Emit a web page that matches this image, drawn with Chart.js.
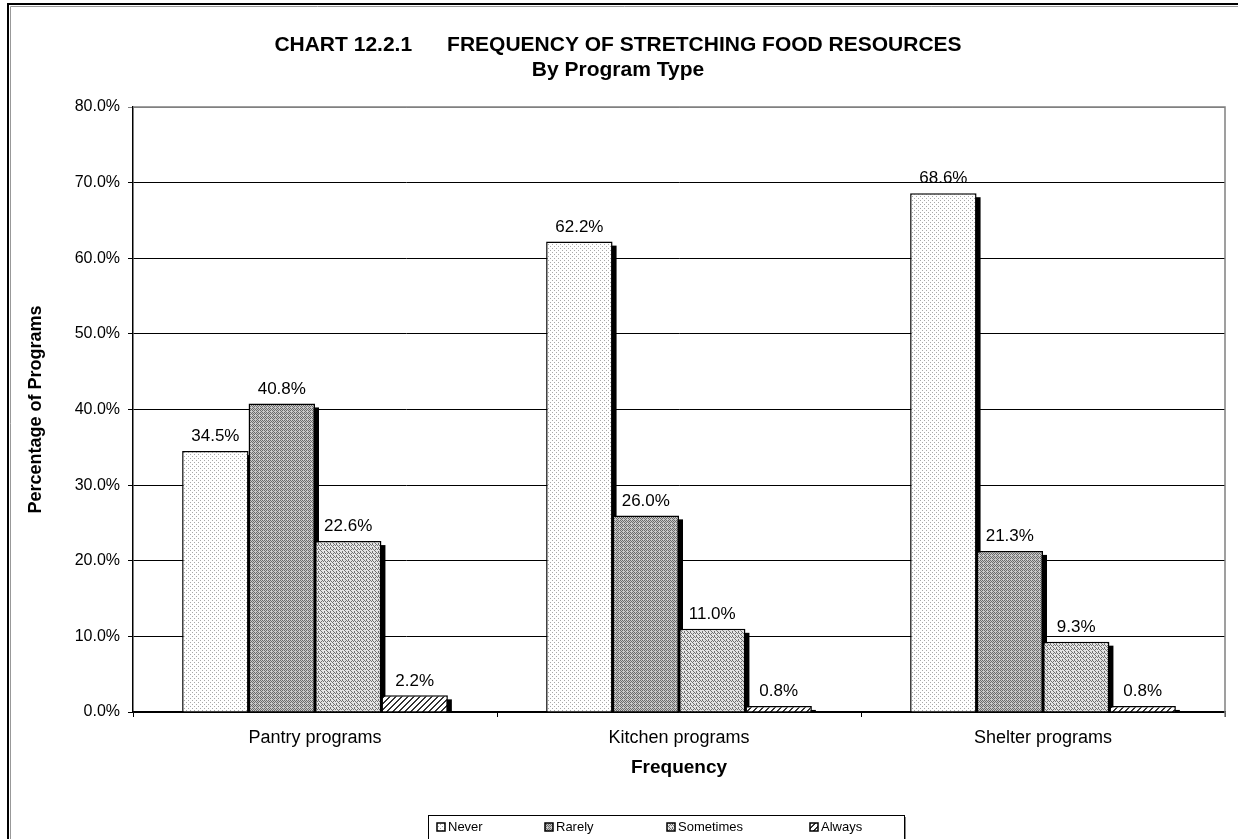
<!DOCTYPE html>
<html>
<head>
<meta charset="utf-8">
<script src="https://cdn.jsdelivr.net/npm/chart.js@4.4.1/dist/chart.umd.min.js"></script>
<style>
html,body{margin:0;padding:0;background:#fff;overflow:hidden;}
#wrap{position:absolute;left:0;top:0;width:1238px;height:839px;}
</style>
</head>
<body>
<div id="wrap"><canvas id="c" width="1238" height="839"></canvas></div>
<script>
const categories = ['Pantry programs', 'Kitchen programs', 'Shelter programs'];
const seriesNames = ['Never', 'Rarely', 'Sometimes', 'Always'];
const neverValues = [34.5, 62.2, 68.6];
const rarelyValues = [40.8, 26.0, 21.3];
const sometimesValues = [22.6, 11.0, 9.3];
const alwaysValues = [2.2, 0.8, 0.8];
const yTicks = [0, 10, 20, 30, 40, 50, 60, 70, 80];
const titleLines = ['CHART 12.2.1\u00a0\u00a0\u00a0\u00a0\u00a0\u00a0FREQUENCY OF STRETCHING FOOD RESOURCES', 'By Program Type'];

const FONT = "'Liberation Sans', Arial, sans-serif";

function makePattern(kind) {
  const c = document.createElement('canvas');
  const ctx = c.getContext('2d');
  if (kind === 'never') {
    c.width = 4; c.height = 4;
    ctx.fillStyle = '#ffffff'; ctx.fillRect(0,0,4,4);
    ctx.fillStyle = '#a8a8a8';
    ctx.fillRect(0,0,1,1); ctx.fillRect(2,2,1,1);
  } else if (kind === 'rarely') {
    c.width = 4; c.height = 4;
    ctx.fillStyle = '#c8c8c8'; ctx.fillRect(0,0,4,4);
    ctx.fillStyle = '#6a6a6a';
    ctx.fillRect(0,0,1,1); ctx.fillRect(2,0,1,1); ctx.fillRect(1,1,1,1); ctx.fillRect(3,1,1,1);
    ctx.fillRect(0,2,1,1); ctx.fillRect(2,2,1,1); ctx.fillRect(1,3,1,1);
  } else if (kind === 'sometimes') {
    c.width = 6; c.height = 4;
    ctx.fillStyle = '#e4e4e4'; ctx.fillRect(0,0,6,4);
    ctx.fillStyle = '#707070';
    ctx.fillRect(0,0,1,1); ctx.fillRect(1,1,1,1); ctx.fillRect(2,2,1,1);
    ctx.fillRect(3,1,1,1); ctx.fillRect(4,0,1,1); ctx.fillRect(5,1,1,1);
    ctx.fillRect(0,3,1,1); ctx.fillRect(3,3,1,1);
  } else {
    c.width = 6; c.height = 6;
    ctx.fillStyle = '#ffffff'; ctx.fillRect(0,0,6,6);
    ctx.fillStyle = '#333333';
    for (let i = 0; i < 6; i++) { ctx.fillRect((5 - i + 6) % 6, i, 1, 1); ctx.fillRect((6 - i) % 6, i, 1, 1); }
  }
  return document.createElement('canvas').getContext('2d').createPattern(c, 'repeat');
}
const patterns = [makePattern('never'), makePattern('rarely'), makePattern('sometimes'), makePattern('always')];
const seriesValues = [neverValues, rarelyValues, sometimesValues, alwaysValues];

const datasets = seriesNames.map((name, i) => ({
  label: name,
  data: seriesValues[i],
  backgroundColor: patterns[i],
  borderColor: '#000',
  borderWidth: 1.5,
  borderSkipped: 'bottom'
}));

const decor = {
  id: 'decor',
  beforeDatasetsDraw(chart) {
    const ctx = chart.ctx;
    const a = chart.chartArea;
    ctx.save();
    ctx.beginPath();
    ctx.rect(a.left, a.top, a.right - a.left, a.bottom - a.top);
    ctx.clip();
    ctx.fillStyle = '#000';
    chart.data.datasets.forEach((ds, di) => {
      chart.getDatasetMeta(di).data.forEach((bar) => {
        const p = bar.getProps(['x', 'y', 'width', 'base'], true);
        ctx.fillRect(p.x - p.width / 2 + 4, p.y + 4, p.width, p.base - p.y);
      });
    });
    ctx.restore();
  },
  afterDatasetsDraw(chart) {
    const ctx = chart.ctx;
    const a = chart.chartArea;
    ctx.save();
    ctx.strokeStyle = '#808080';
    ctx.lineWidth = 1.5;
    ctx.beginPath();
    ctx.moveTo(a.left, a.top); ctx.lineTo(a.right, a.top); ctx.lineTo(a.right, a.bottom + 5);
    ctx.stroke();
    ctx.fillStyle = '#000';
    ctx.font = '17px ' + FONT;
    ctx.textAlign = 'center';
    ctx.textBaseline = 'bottom';
    chart.data.datasets.forEach((ds, di) => {
      const meta = chart.getDatasetMeta(di);
      meta.data.forEach((bar, j) => {
        ctx.fillText(ds.data[j].toFixed(1) + '%', bar.x, bar.y - 6);
      });
    });
    ctx.restore();
  },
  afterDraw(chart) {
    const ctx = chart.ctx;
    ctx.save();
    ctx.strokeStyle = '#000';
    ctx.lineWidth = 2;
    ctx.beginPath();
    ctx.moveTo(8, 845); ctx.lineTo(8, 4); ctx.lineTo(1245, 4);
    ctx.stroke();
    ctx.strokeStyle = '#999';
    ctx.lineWidth = 1;
    ctx.beginPath();
    ctx.moveTo(10.5, 845); ctx.lineTo(10.5, 6.5); ctx.lineTo(1245, 6.5);
    ctx.stroke();
    ctx.fillStyle = '#000';
    ctx.textAlign = 'center';
    ctx.textBaseline = 'middle';
    ctx.font = 'bold 21px ' + FONT;
    ctx.fillText(titleLines[0], 618, 45);
    ctx.fillText(titleLines[1], 618, 70);
    const lx = 428, ly = 815, lw = 476, lh = 30;
    ctx.fillStyle = '#fff';
    ctx.fillRect(lx, ly, lw, lh);
    ctx.strokeStyle = '#000';
    ctx.lineWidth = 1;
    ctx.strokeRect(lx + 0.5, ly + 0.5, lw, lh);
    ctx.strokeStyle = '#888';
    ctx.beginPath();
    ctx.moveTo(lx + lw + 1.5, ly + 2); ctx.lineTo(lx + lw + 1.5, ly + lh + 2);
    ctx.stroke();
    const itemX = [437, 545, 667, 810];
    ctx.font = '13px ' + FONT;
    ctx.textAlign = 'left';
    ctx.textBaseline = 'middle';
    chart.data.datasets.forEach((ds, i) => {
      const x = itemX[i], y = 827;
      ctx.fillStyle = ds.backgroundColor;
      ctx.fillRect(x, y - 4, 8, 8);
      ctx.strokeStyle = '#000';
      ctx.lineWidth = 1.5;
      ctx.strokeRect(x, y - 4, 8, 8);
      ctx.fillStyle = '#000';
      ctx.fillText(ds.label, x + 11, y);
    });
    ctx.restore();
  }
};

new Chart(document.getElementById('c'), {
  type: 'bar',
  data: { labels: categories, datasets },
  plugins: [decor],
  options: {
    responsive: false,
    animation: false,
    events: [],
    layout: { padding: { left: 9, right: 13, top: 107, bottom: 55 } },
    plugins: { legend: { display: false }, title: { display: false }, tooltip: { enabled: false } },
    datasets: { bar: { categoryPercentage: 0.73, barPercentage: 1.0 } },
    scales: {
      x: {
        afterFit(s) { s.height = 72; },
        grid: { display: true, drawOnChartArea: false, offset: true, color: '#000', tickLength: 5, tickWidth: 1 },
        border: { display: true, color: '#000', width: 1.5 },
        ticks: { color: '#000', font: { family: FONT, size: 18 }, padding: 10 },
        title: { display: true, text: 'Frequency', color: '#000', font: { family: FONT, size: 19, weight: 'bold' }, padding: { top: 0, bottom: 5 } }
      },
      y: {
        min: 0, max: 80,
        afterFit(s) { s.width = 124; },
        afterBuildTicks(s) { s.ticks = yTicks.map(v => ({ value: v })); },
        grid: { color: (c) => c.tick && c.tick.value === 80 ? '#808080' : '#000', lineWidth: 1, tickLength: 5 },
        border: { display: true, color: '#000', width: 1.5 },
        ticks: { color: '#000', font: { family: FONT, size: 16 }, padding: 8, callback: (v) => Number(v).toFixed(1) + '%' },
        title: { display: true, text: 'Percentage of Programs', color: '#000', font: { family: FONT, size: 18, weight: 'bold' }, padding: { top: 16, bottom: 0 } }
      }
    }
  }
});
</script>
</body>
</html>
